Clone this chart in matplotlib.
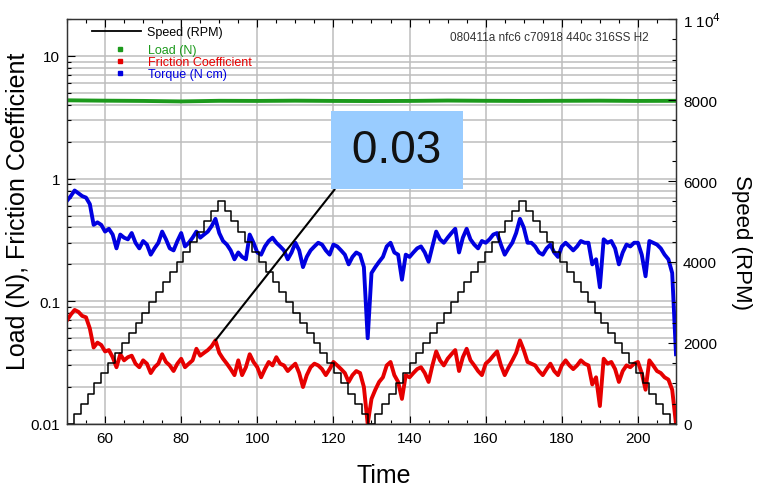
import numpy as np
import matplotlib
matplotlib.use("Agg")
import matplotlib.pyplot as plt
from matplotlib.ticker import (MultipleLocator, LogLocator, FixedLocator,
                               FixedFormatter, NullFormatter)
from matplotlib.lines import Line2D

plt.rcParams['font.family'] = ['Liberation Sans', 'DejaVu Sans']

# ---- data -------------------------------------------------------------
time_s = np.arange(50, 211)          # one sample per second

friction = [
    0.070, 0.078, 0.085, 0.082, 0.076, 0.074, 0.060, 0.042, 0.046, 0.044,
    0.039, 0.040, 0.035, 0.029, 0.037, 0.033, 0.035, 0.036, 0.031, 0.029,
    0.033, 0.031, 0.026, 0.029, 0.031, 0.037, 0.032, 0.030, 0.027, 0.031,
    0.034, 0.029, 0.031, 0.033, 0.041, 0.036, 0.038, 0.040, 0.043, 0.048,
    0.038, 0.034, 0.031, 0.028, 0.025, 0.033, 0.025, 0.029, 0.037, 0.032,
    0.029, 0.024, 0.028, 0.032, 0.030, 0.035, 0.031, 0.030, 0.027, 0.029,
    0.031, 0.026, 0.020, 0.025, 0.029, 0.031, 0.030, 0.028, 0.025, 0.028,
    0.032, 0.030, 0.028, 0.026, 0.022, 0.025, 0.027, 0.026, 0.020, 0.010,
    0.016, 0.019, 0.022, 0.024, 0.030, 0.032, 0.025, 0.022, 0.016, 0.025,
    0.024, 0.026, 0.028, 0.029, 0.026, 0.022, 0.030, 0.039, 0.033, 0.030,
    0.034, 0.037, 0.040, 0.027, 0.035, 0.041, 0.033, 0.030, 0.027, 0.025,
    0.031, 0.033, 0.036, 0.039, 0.030, 0.025, 0.029, 0.033, 0.038, 0.048,
    0.040, 0.032, 0.031, 0.030, 0.027, 0.025, 0.028, 0.031, 0.027, 0.025,
    0.030, 0.033, 0.030, 0.028, 0.030, 0.033, 0.031, 0.030, 0.021, 0.024,
    0.014, 0.034, 0.031, 0.032, 0.028, 0.022, 0.027, 0.030, 0.029, 0.031,
    0.032, 0.026, 0.019, 0.033, 0.030, 0.027, 0.026, 0.024, 0.023, 0.019,
    0.010,
]

torque = [
    0.66, 0.72, 0.80, 0.76, 0.72, 0.70, 0.62, 0.42, 0.44, 0.42,
    0.37, 0.39, 0.35, 0.27, 0.35, 0.33, 0.32, 0.36, 0.30, 0.27,
    0.31, 0.29, 0.24, 0.27, 0.30, 0.37, 0.32, 0.27, 0.26, 0.31,
    0.36, 0.28, 0.30, 0.33, 0.37, 0.33, 0.35, 0.37, 0.41, 0.47,
    0.36, 0.31, 0.29, 0.26, 0.22, 0.25, 0.23, 0.22, 0.35, 0.30,
    0.25, 0.24, 0.28, 0.31, 0.33, 0.30, 0.28, 0.26, 0.22, 0.25,
    0.30, 0.26, 0.19, 0.23, 0.26, 0.28, 0.30, 0.29, 0.26, 0.24,
    0.29, 0.28, 0.26, 0.24, 0.20, 0.23, 0.25, 0.24, 0.19, 0.05,
    0.17, 0.19, 0.21, 0.23, 0.28, 0.30, 0.25, 0.24, 0.15, 0.24,
    0.23, 0.25, 0.27, 0.28, 0.25, 0.21, 0.28, 0.37, 0.32, 0.30,
    0.33, 0.36, 0.39, 0.25, 0.33, 0.39, 0.32, 0.29, 0.27, 0.31,
    0.30, 0.32, 0.35, 0.36, 0.29, 0.24, 0.27, 0.30, 0.36, 0.47,
    0.40, 0.30, 0.30, 0.28, 0.25, 0.24, 0.27, 0.29, 0.25, 0.23,
    0.28, 0.30, 0.28, 0.26, 0.28, 0.31, 0.30, 0.30, 0.20, 0.22,
    0.13, 0.32, 0.30, 0.31, 0.27, 0.20, 0.25, 0.29, 0.28, 0.30,
    0.30, 0.24, 0.16, 0.31, 0.30, 0.29, 0.27, 0.24, 0.22, 0.17,
    0.037,
]

load_time = [50, 60, 70, 80, 90, 100, 110, 120, 130, 140, 150, 160, 170,
             180, 190, 200, 210]
load_n = [4.35, 4.32, 4.30, 4.26, 4.31, 4.30, 4.32, 4.30, 4.29, 4.30, 4.33,
          4.31, 4.30, 4.31, 4.32, 4.30, 4.31]

# spindle speed program: one level per step
speed_step_s = 1.8
speed_rpm = [
    0, 250, 500, 750, 1000, 1250, 1500, 1750, 2000, 2250, 2500, 2750, 3000,
    3250, 3500, 3750, 4000, 4250, 4500, 4750, 5000, 5250, 5500,
    5250, 5000, 4750, 4500, 4250, 4000, 3750, 3500, 3250, 3000, 2750, 2500,
    2250, 2000, 1750, 1500, 1250, 1000, 750, 500, 250, 0,
    250, 500, 750, 1000, 1250, 1500, 1750, 2000, 2250, 2500, 2750, 3000,
    3250, 3500, 3750, 4000, 4250, 4500, 4750, 5000, 5250, 5500,
    5250, 5000, 4750, 4500, 4250, 4000, 3750, 3500, 3250, 3000, 2750, 2500,
    2250, 2000, 1750, 1500, 1250, 1000, 750, 500, 250, 0,
]

speed_ticks = [0, 2000, 4000, 6000, 8000, 10000]
speed_tick_labels = ['0', '2000', '4000', '6000', '8000', '1 10$^4$']
log_ticks = [0.01, 0.1, 1, 10]
log_tick_labels = ['0.01', '0.1', '1', '10']

run_id = '080411a nfc6 c70918 440c 316SS H2'
mean_friction_label = '0.03'

# ---- figure -----------------------------------------------------------
fig = plt.figure(figsize=(7.57, 4.89), dpi=100)
ax = fig.add_axes([0.0885, 0.131, 0.8045, 0.828])
ax2 = ax.twinx()

c_green = '#1c9a1c'
c_red = '#e60000'
c_blue = '#0000e0'

ax.plot(load_time, load_n, color=c_green, lw=2.8, zorder=3)
ax.plot(time_s, friction, color=c_red, lw=2.8, zorder=3)
ax.plot(time_s, torque, color=c_blue, lw=2.8, zorder=3)

speed_time = 50 + speed_step_s * np.arange(len(speed_rpm))
speed_time = np.append(speed_time, 210)
speed_vals = np.append(speed_rpm, speed_rpm[-1])
ax2.step(speed_time, speed_vals, where='post', color='black', lw=1.1)

# axes limits and scales
ax.set_xlim(50, 210)
ax.set_yscale('log')
ax.set_ylim(0.01, 20)
ax2.set_ylim(0, 10000)

# grid
grid_kw = dict(color='#bdbdbd', lw=1.1)
ax.grid(True, which='major', axis='x', **grid_kw)
ax.grid(True, which='both', axis='y', **grid_kw)
ax.set_axisbelow(True)

# ticks
ax.xaxis.set_major_locator(MultipleLocator(20))
ax.xaxis.set_minor_locator(MultipleLocator(5))
ax.yaxis.set_major_locator(FixedLocator(log_ticks))
ax.yaxis.set_major_formatter(FixedFormatter(log_tick_labels))
ax.yaxis.set_minor_locator(LogLocator(base=10, subs=np.arange(2, 10)))
ax.yaxis.set_minor_formatter(NullFormatter())
ax.tick_params(axis='both', which='major', direction='in', length=6,
               width=0.8, labelsize=11, top=True, right=False, pad=5)
ax.tick_params(axis='both', which='minor', direction='in', length=3,
               width=0.8, top=True, right=False)

ax2.yaxis.set_major_locator(FixedLocator(speed_ticks))
ax2.yaxis.set_major_formatter(FixedFormatter(speed_tick_labels))
ax2.yaxis.set_minor_locator(MultipleLocator(500))
ax2.tick_params(axis='y', which='major', direction='in', length=6,
                width=0.8, labelsize=11, pad=5)
ax2.tick_params(axis='y', which='minor', direction='in', length=3, width=0.8)

for a in (ax, ax2):
    for s in a.spines.values():
        s.set_linewidth(0.9)
        s.set_color('#333333')

# labels
ax.set_xlabel('Time', fontsize=18)
ax.xaxis.set_label_coords(0.52, -0.097)
ax.set_ylabel('Load (N), Friction Coefficient', fontsize=18)
ax.yaxis.set_label_coords(-0.061, 0.527)
ax2.set_ylabel('Speed (RPM)', fontsize=16, rotation=270, va='top')
ax2.yaxis.set_label_coords(1.125, 0.45)

ax.text(0.955, 0.955, run_id, transform=ax.transAxes, ha='right',
        va='center', fontsize=8.5, color='#333333')

# legends
speed_handle = [Line2D([], [], color='black', lw=1.3)]
leg1 = ax2.legend(speed_handle, ['Speed (RPM)'], loc='upper left',
                  bbox_to_anchor=(92 / 757, 1 - 27 / 489),
                  bbox_transform=fig.transFigure, frameon=False,
                  fontsize=9, handlelength=3.9, handletextpad=0.5,
                  borderpad=0, borderaxespad=0)

dot_handles = [Line2D([], [], ls='none', marker='s', ms=2.2, color=c)
               for c in (c_green, c_red, c_blue)]
leg2 = ax2.legend(dot_handles, ['Load (N)', 'Friction Coefficient',
                                'Torque (N cm)'],
                  loc='upper left', bbox_to_anchor=(92 / 757, 1 - 45 / 489),
                  bbox_transform=fig.transFigure, frameon=False,
                  fontsize=9, handlelength=4.4, handletextpad=0.1,
                  labelspacing=0.0, borderpad=0, borderaxespad=0,
                  labelcolor=[c_green, c_red, c_blue])
ax2.add_artist(leg1)

# callout for the friction level
ax.annotate('\u200a' + mean_friction_label + '\u200a',
            xy=(time_s[39], friction[39]),
            xytext=(397 / 757, 1 - 151 / 489), textcoords='figure fraction',
            ha='center', va='center', fontsize=33, color='#111111',
            bbox=dict(boxstyle='square,pad=0.38', fc='#99ccff', ec='none'),
            arrowprops=dict(arrowstyle='-', color='black', lw=1.5,
                            relpos=(0, 0), shrinkA=0, shrinkB=0),
            zorder=6, annotation_clip=False)

fig.savefig('out.png', dpi=100)
